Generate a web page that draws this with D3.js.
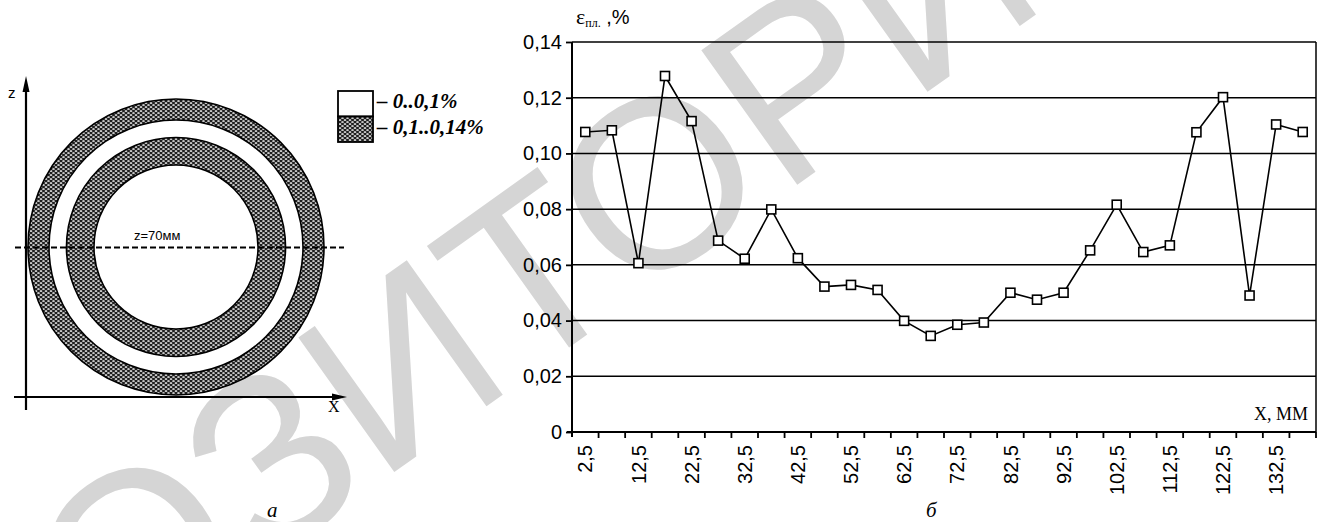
<!DOCTYPE html>
<html>
<head>
<meta charset="utf-8">
<script src="https://cdn.jsdelivr.net/npm/d3@7"></script>
<style>
  body { margin: 0; background: #fff; }
  svg { display: block; }
</style>
</head>
<body>
<svg id="fig" width="1325" height="522"></svg>
<script>
// Measurement positions along X, mm
const positions = [2.5, 7.5, 12.5, 17.5, 22.5, 27.5, 32.5, 37.5, 42.5, 47.5,
                   52.5, 57.5, 62.5, 67.5, 72.5, 77.5, 82.5, 87.5, 92.5, 97.5,
                   102.5, 107.5, 112.5, 117.5, 122.5, 127.5, 132.5, 137.5];
// Plastic strain at z = 70 mm, %
const strain = [0.1077, 0.1083, 0.0606, 0.1278, 0.1116, 0.0687, 0.0622, 0.0799, 0.0624, 0.0522,
                0.0528, 0.0510, 0.0399, 0.0345, 0.0385, 0.0393, 0.0500, 0.0475, 0.0500, 0.0652,
                0.0816, 0.0646, 0.0670, 0.1076, 0.1202, 0.0490, 0.1104, 0.1077];
const yTicks = [0, 0.02, 0.04, 0.06, 0.08, 0.10, 0.12, 0.14];
const xLabelled = [2.5, 12.5, 22.5, 32.5, 42.5, 52.5, 62.5, 72.5, 82.5, 92.5, 102.5, 112.5, 122.5, 132.5];
const legendLabels = ["– 0..0,1%", "– 0,1..0,14%"];
const stampText = "РЕПОЗИТОРИЙ";

const svg = d3.select("#fig");
const defs = svg.append("defs");

// cross-hatched fill for the high-strain zones
const pat = defs.append("pattern")
  .attr("id", "hatch").attr("patternUnits", "userSpaceOnUse")
  .attr("width", 5).attr("height", 4);
pat.append("rect").attr("width", 5).attr("height", 4).attr("fill", "#1e1e1e");
[[0, 0], [5, 0], [0, 4], [5, 4], [2.5, 2]].forEach(([cx, cy]) =>
  pat.append("ellipse").attr("cx", cx).attr("cy", cy).attr("rx", 1.35).attr("ry", 0.85).attr("fill", "#fff"));

// faint repository stamp under everything: the 8th letter is centred on stampPoint
const stampSize = 240;
const stampPoint = [655, 180], stampAngle = -35.5, stampKeyIdx = 7;
const stampG = svg.append("g");
const stampTxt = stampG.append("text")
  .attr("fill", "#d5d5d5")
  .style("font-family", "'Liberation Sans', Arial, sans-serif")
  .style("font-size", stampSize + "px")
  .text(stampText);
const ext = stampTxt.node().getExtentOfChar(stampKeyIdx);
const keyCx = ext.x + ext.width / 2;
const keyCy = -0.36 * stampSize;
stampG.attr("transform",
  `translate(${stampPoint}) rotate(${stampAngle}) translate(${-keyCx},${-keyCy})`);

/* ---------- panel а: strain zones in the cross-section ---------- */
const sec = svg.append("g");
const ringCenter = [176, 247];
const rings = [
  { inner: 127, outer: 148 },
  { inner: 82, outer: 109.5 }
];
const arc = d3.arc().startAngle(0).endAngle(2 * Math.PI);
sec.selectAll("path.ring").data(rings).join("path")
  .attr("class", "ring")
  .attr("transform", `translate(${ringCenter})`)
  .attr("d", d => arc({ innerRadius: d.inner, outerRadius: d.outer }))
  .attr("fill", "url(#hatch)")
  .attr("stroke", "#000").attr("stroke-width", 1.6);

// coordinate axes
const axStroke = "#000";
sec.append("line").attr("x1", 26).attr("y1", 410).attr("x2", 26).attr("y2", 84)
  .attr("stroke", axStroke).attr("stroke-width", 2.2);
sec.append("path").attr("d", "M26,76 L22.5,92 L29.5,92 Z").attr("fill", axStroke);
sec.append("line").attr("x1", 14).attr("y1", 397).attr("x2", 338).attr("y2", 397)
  .attr("stroke", axStroke).attr("stroke-width", 2.2);
sec.append("path").attr("d", "M347,397 L332,393.5 L332,400.5 Z").attr("fill", axStroke);
sec.append("text").attr("x", 8).attr("y", 98)
  .style("font-family", "'Liberation Sans', Arial, sans-serif").style("font-size", "15px")
  .text("z");
sec.append("text").attr("x", 328).attr("y", 412)
  .style("font-family", "'Liberation Serif', 'Times New Roman', serif").style("font-size", "16px")
  .text("X");

// section line z = 70 mm
sec.append("line").attr("x1", 15).attr("y1", 247.5).attr("x2", 344).attr("y2", 247.5)
  .attr("stroke", "#000").attr("stroke-width", 2.2).attr("stroke-dasharray", "6,3");
sec.append("text").attr("x", 134).attr("y", 240)
  .style("font-family", "'Liberation Sans', Arial, sans-serif").style("font-size", "13px")
  .text("z=70мм");

// legend
const lg = sec.append("g");
lg.selectAll("rect").data(legendLabels).join("rect")
  .attr("x", 338).attr("y", (d, i) => 91 + i * 25.5)
  .attr("width", 35).attr("height", 25.5)
  .attr("fill", (d, i) => i === 0 ? "#fff" : "url(#hatch)")
  .attr("stroke", "#000").attr("stroke-width", 1.8);
lg.selectAll("text").data(legendLabels).join("text")
  .attr("x", 377).attr("y", (d, i) => 108 + i * 25.5)
  .style("font-family", "'Liberation Serif', 'Times New Roman', serif")
  .style("font-size", "21px").style("font-weight", "bold").style("font-style", "italic")
  .text(d => d);

sec.append("text").attr("x", 267).attr("y", 517)
  .style("font-family", "'Liberation Serif', 'Times New Roman', serif")
  .style("font-size", "21px").style("font-style", "italic")
  .text("а");

/* ---------- panel б: strain profile along X ---------- */
const plot = { left: 572, right: 1316, top: 42, bottom: 432 };
const x = d3.scaleBand().domain(positions).range([plot.left, plot.right]).padding(0);
const y = d3.scaleLinear().domain([0, 0.14]).range([plot.bottom, plot.top]);
const fmt = v => v === 0 ? "0" : d3.format(".2f")(v).replace(".", ",");
const chart = svg.append("g");

// horizontal grid
chart.selectAll("line.grid").data(yTicks.filter(v => v > 0)).join("line")
  .attr("class", "grid")
  .attr("x1", plot.left).attr("x2", plot.right)
  .attr("y1", d => y(d)).attr("y2", d => y(d))
  .attr("stroke", "#000").attr("stroke-width", 1.5);

// right frame edge
chart.append("line").attr("x1", plot.right).attr("x2", plot.right)
  .attr("y1", plot.top).attr("y2", plot.bottom)
  .attr("stroke", "#000").attr("stroke-width", 1.5);

// y axis
const yAxis = chart.append("g").attr("transform", `translate(${plot.left},0)`)
  .call(d3.axisLeft(y).tickValues(yTicks).tickFormat(fmt).tickSize(6).tickPadding(4));
yAxis.select(".domain").attr("stroke-width", 2).attr("d", `M0,${plot.top}V${plot.bottom + 5}`);
yAxis.selectAll(".tick line").attr("stroke-width", 1.8);
yAxis.selectAll("text")
  .style("font-family", "'Liberation Sans', Arial, sans-serif").style("font-size", "20px")
  .attr("fill", "#000");

// x axis: ticks on band edges, labels on every other band
const xAxisG = chart.append("g");
xAxisG.append("line").attr("x1", plot.left - 5).attr("x2", plot.right)
  .attr("y1", plot.bottom).attr("y2", plot.bottom)
  .attr("stroke", "#000").attr("stroke-width", 2);
xAxisG.selectAll("line.tk").data(positions).join("line")
  .attr("class", "tk")
  .attr("x1", d => x(d) + x.bandwidth()).attr("x2", d => x(d) + x.bandwidth())
  .attr("y1", plot.bottom).attr("y2", plot.bottom + 6)
  .attr("stroke", "#000").attr("stroke-width", 1.8);
xAxisG.selectAll("text").data(xLabelled).join("text")
  .attr("transform", d => `translate(${x(d) + x.bandwidth() / 2},${plot.bottom + 13}) rotate(-90)`)
  .attr("text-anchor", "end").attr("dy", "0.36em")
  .style("font-family", "'Liberation Sans', Arial, sans-serif").style("font-size", "20px")
  .text(d => String(d).replace(".", ","));

// axis titles
const yTitle = chart.append("text").attr("x", 576).attr("y", 24)
  .style("font-family", "'Liberation Serif', 'Times New Roman', serif").style("font-size", "22px");
yTitle.append("tspan").text("ε");
yTitle.append("tspan").attr("dy", 3).style("font-size", "12px").text("пл.");
yTitle.append("tspan").attr("dy", -3).style("font-family", "'Liberation Sans', Arial, sans-serif")
  .style("font-size", "20px").text(" ,%");
chart.append("text").attr("x", 1308).attr("y", 420).attr("text-anchor", "end")
  .style("font-family", "'Liberation Serif', 'Times New Roman', serif").style("font-size", "18px")
  .text("X, ММ");

// data line and square markers
const pts = positions.map((p, i) => [x(p) + x.bandwidth() / 2, y(strain[i])]);
chart.append("path").attr("d", d3.line()(pts))
  .attr("fill", "none").attr("stroke", "#000").attr("stroke-width", 1.6);
chart.selectAll("rect.mk").data(pts).join("rect")
  .attr("class", "mk")
  .attr("x", d => d[0] - 4.5).attr("y", d => d[1] - 4.5)
  .attr("width", 9).attr("height", 9)
  .attr("fill", "#fff").attr("stroke", "#000").attr("stroke-width", 1.6);

chart.append("text").attr("x", 926).attr("y", 517)
  .style("font-family", "'Liberation Serif', 'Times New Roman', serif")
  .style("font-size", "21px").style("font-style", "italic")
  .text("б");
</script>
</body>
</html>
